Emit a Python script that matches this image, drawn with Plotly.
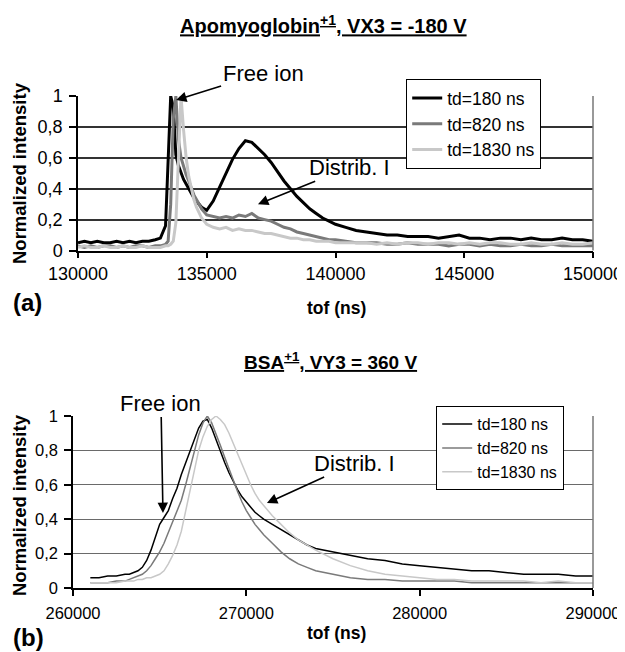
import plotly.graph_objects as go

# ---------------- data: panel (a) ----------------
tof_a = [130000, 130250, 130500, 130750, 131000, 131250, 131500, 131750, 132000, 132250,
         132500, 132750, 133000, 133200, 133400,
         133500, 133600, 133700, 133800, 133900, 134000, 134100, 134200, 134300, 134400,
         134500, 134600, 134800,
         135000, 135250, 135500, 135750, 136000, 136250, 136500, 136750, 137000, 137250,
         137500, 137750, 138000, 138250, 138500, 138750, 139000, 139250, 139500, 139750, 140000,
         140400, 140800, 141200, 141600, 142000, 142400, 142800, 143200, 143600, 144000,
         144400, 144800, 145200, 145600, 146000, 146400, 146800, 147200, 147600, 148000,
         148400, 148800, 149200, 149600, 150000]

a_td180 = [0.05, 0.06, 0.05, 0.06, 0.05, 0.05, 0.06, 0.05, 0.06, 0.05,
           0.06, 0.06, 0.07, 0.08, 0.16,
           0.55, 1.00, 0.93, 0.62, 0.55, 0.50, 0.46, 0.43, 0.40, 0.37,
           0.34, 0.32, 0.28,
           0.26, 0.32, 0.41, 0.50, 0.59, 0.66, 0.71, 0.70, 0.66, 0.62,
           0.57, 0.51, 0.45, 0.40, 0.35, 0.31, 0.27, 0.24, 0.21, 0.19, 0.17,
           0.15, 0.13, 0.12, 0.11, 0.10, 0.10, 0.09, 0.09, 0.09, 0.08,
           0.09, 0.10, 0.08, 0.08, 0.07, 0.08, 0.08, 0.07, 0.08, 0.07,
           0.07, 0.08, 0.07, 0.07, 0.06]

a_td820 = [0.03, 0.02, 0.03, 0.02, 0.03, 0.03, 0.02, 0.03, 0.02, 0.03,
           0.03, 0.02, 0.03, 0.03, 0.04,
           0.06, 0.30, 0.85, 1.00, 0.72, 0.60, 0.54, 0.49, 0.45, 0.40,
           0.36, 0.33, 0.27,
           0.23, 0.22, 0.21, 0.22, 0.21, 0.23, 0.22, 0.24, 0.21, 0.20,
           0.19, 0.17, 0.15, 0.14, 0.12, 0.11, 0.10, 0.09, 0.08, 0.07, 0.07,
           0.06, 0.05, 0.05, 0.05, 0.04, 0.04, 0.05, 0.04, 0.04, 0.04,
           0.03, 0.04, 0.04, 0.03, 0.04, 0.03, 0.03, 0.04, 0.03, 0.03,
           0.04, 0.03, 0.03, 0.03, 0.03]

a_td1830 = [0.02, 0.03, 0.02, 0.02, 0.03, 0.02, 0.02, 0.03, 0.02, 0.02,
            0.03, 0.02, 0.02, 0.02, 0.03,
            0.03, 0.04, 0.06, 0.18, 0.62, 1.00, 0.78, 0.60, 0.48, 0.40,
            0.33, 0.28, 0.21,
            0.17, 0.15, 0.14, 0.15, 0.13, 0.14, 0.13, 0.13, 0.12, 0.11,
            0.11, 0.10, 0.09, 0.08, 0.08, 0.07, 0.07, 0.06, 0.06, 0.06, 0.05,
            0.05, 0.05, 0.05, 0.04, 0.05, 0.04, 0.05, 0.05, 0.04, 0.05,
            0.05, 0.04, 0.05, 0.04, 0.05, 0.05, 0.04, 0.04, 0.05, 0.04,
            0.04, 0.05, 0.04, 0.04, 0.05]

# ---------------- data: panel (b) ----------------
tof_b = [261000, 261500, 262000, 262500,
         263000, 263250, 263500, 263750, 264000, 264250, 264500, 264750, 265000, 265250,
         265500, 265750, 266000, 266250, 266500, 266750, 267000, 267250, 267500, 267750,
         268000, 268250, 268500, 268750, 269000, 269250, 269500, 269750, 270000, 270250,
         270500, 270750, 271000,
         271500, 272000, 272500, 273000, 273500, 274000,
         275000, 276000, 277000, 278000, 279000, 280000, 281000, 282000, 283000, 284000,
         285000, 286000, 287000, 288000, 289000, 290000]

b_td180 = [0.06, 0.06, 0.07, 0.07,
           0.08, 0.08, 0.09, 0.10, 0.12, 0.16, 0.22, 0.30, 0.37, 0.41,
           0.45, 0.52, 0.58, 0.66, 0.73, 0.80, 0.87, 0.93, 0.97, 0.98,
           0.93, 0.86, 0.80, 0.73, 0.67, 0.62, 0.57, 0.53, 0.50, 0.47,
           0.44, 0.42, 0.40,
           0.37, 0.34, 0.31, 0.28, 0.25, 0.23,
           0.21, 0.19, 0.17, 0.16, 0.14, 0.13, 0.12, 0.11, 0.10, 0.10,
           0.09, 0.08, 0.08, 0.08, 0.07, 0.07]

b_td820 = [0.03, 0.03, 0.03, 0.04,
           0.04, 0.05, 0.06, 0.07, 0.08, 0.10, 0.13, 0.17, 0.21, 0.26,
           0.32, 0.38, 0.44, 0.51, 0.60, 0.70, 0.80, 0.89, 0.96, 1.00,
           0.96, 0.90, 0.83, 0.76, 0.69, 0.62, 0.56, 0.50, 0.45, 0.41,
           0.37, 0.34, 0.31,
           0.26, 0.21, 0.17, 0.14, 0.12, 0.10,
           0.08, 0.06, 0.05, 0.05, 0.04, 0.04, 0.04, 0.04, 0.03, 0.03,
           0.03, 0.03, 0.03, 0.03, 0.03, 0.03]

b_td1830 = [0.03, 0.03, 0.03, 0.03,
            0.04, 0.04, 0.04, 0.05, 0.05, 0.06, 0.06, 0.07, 0.08, 0.10,
            0.14, 0.19, 0.25, 0.33, 0.45, 0.58, 0.70, 0.80, 0.88, 0.94,
            0.98, 1.00, 0.98, 0.95, 0.90, 0.84, 0.77, 0.71, 0.65, 0.60,
            0.55, 0.51, 0.48,
            0.42, 0.37, 0.32, 0.28, 0.25, 0.22,
            0.17, 0.13, 0.10, 0.08, 0.07, 0.06, 0.05, 0.05, 0.04, 0.04,
            0.04, 0.04, 0.03, 0.04, 0.03, 0.03]

series_names = ["td=180 ns", "td=820 ns", "td=1830 ns"]
series_colors = ["#000000", "#7a7a7a", "#c8c8c8"]

y_tickvals = [0, 0.2, 0.4, 0.6, 0.8, 1]
y_ticktext = ["0", "0,2", "0,4", "0,6", "0,8", "1"]
xa_ticks = [130000, 135000, 140000, 145000, 150000]
xb_ticks = [260000, 270000, 280000, 290000]

FONT = "Liberation Sans, Arial, Helvetica, sans-serif"
OFF = 8                     # page body margin
W, H = 625, 652 - OFF

fig = go.Figure()

for name, col, ys in zip(series_names, series_colors, [a_td180, a_td820, a_td1830]):
    fig.add_trace(go.Scatter(x=tof_a, y=ys, mode="lines", name=name,
                             line=dict(color=col, width=3), xaxis="x", yaxis="y",
                             legend="legend"))
for name, col, ys in zip(series_names, series_colors, [b_td180, b_td820, b_td1830]):
    fig.add_trace(go.Scatter(x=tof_b, y=ys, mode="lines", name=name,
                             line=dict(color=col, width=1.5), xaxis="x2", yaxis="y2",
                             legend="legend2"))

def px_x(p):
    return (p - OFF) / W

def px_y(p):
    return 1 - (p - OFF) / H

xa_dom = [px_x(78), px_x(593)]
ya_dom = [px_y(250.5), px_y(96)]
xb_dom = [px_x(73), px_x(593)]
yb_dom = [px_y(588), px_y(416)]

tickfont_a = dict(family=FONT, size=18, color="black")
tickfont_b = dict(family=FONT, size=16.5, color="black")

common_x = dict(showgrid=False, zeroline=False, showline=True, linecolor="black",
                linewidth=1.5, ticks="outside", ticklen=6, tickwidth=1.5,
                tickcolor="black", automargin=False)
common_y = dict(range=[0, 1], tickvals=y_tickvals, ticktext=y_ticktext, showgrid=True,
                zeroline=False, showline=True, linecolor="black", linewidth=1.5,
                ticks="outside", ticklen=7, tickwidth=1.5, tickcolor="black",
                automargin=False, ticklabelstandoff=3)

fig.update_layout(
    width=W, height=H,
    margin=dict(l=0, r=0, t=0, b=0, pad=0, autoexpand=False),
    paper_bgcolor="white", plot_bgcolor="white",
    font=dict(family=FONT, color="black"),
    xaxis=dict(domain=xa_dom, range=[130000, 150000], tickvals=xa_ticks,
               ticktext=[str(v) for v in xa_ticks], tickfont=tickfont_a, anchor="y",
               **common_x),
    yaxis=dict(domain=ya_dom, gridcolor="#333333", gridwidth=1.5, tickfont=tickfont_a,
               anchor="x", **common_y),
    xaxis2=dict(domain=xb_dom, range=[260000, 290000], tickvals=xb_ticks,
                ticktext=[str(v) for v in xb_ticks], tickfont=tickfont_b, anchor="y2",
                ticklabelstandoff=3, **common_x),
    yaxis2=dict(domain=yb_dom, gridcolor="#6a6a6a", gridwidth=1.2, tickfont=tickfont_b,
                anchor="x2", **common_y),
    legend=dict(x=px_x(406), y=px_y(79), xanchor="left", yanchor="top",
                bgcolor="white", bordercolor="black", borderwidth=1.2,
                font=dict(family=FONT, size=17.5, color="black"),
                itemwidth=30, tracegroupgap=0),
    legend2=dict(x=px_x(436), y=px_y(406), xanchor="left", yanchor="top",
                 bgcolor="white", bordercolor="black", borderwidth=1.2,
                 font=dict(family=FONT, size=16, color="black"),
                 itemwidth=30, tracegroupgap=0),
    showlegend=True,
)

# right border of each plot area
fig.add_shape(type="line", xref="x domain", yref="y domain", x0=1, x1=1, y0=0, y1=1,
              line=dict(color="#777777", width=1.5))
fig.add_shape(type="line", xref="x2 domain", yref="y2 domain", x0=1, x1=1, y0=0, y1=1,
              line=dict(color="#777777", width=1.5))

annots = []

def label(text, xp, yp, size, angle=0):
    return dict(text=text, x=px_x(xp), y=px_y(yp), xref="paper", yref="paper",
                xanchor="center", yanchor="middle", showarrow=False, textangle=angle,
                font=dict(family=FONT, size=size, color="black"))

# titles
annots.append(label("<b><u>Apomyoglobin<sup>+1</sup>, VX3 = -180 V</u></b>", 323, 24, 20))
annots.append(label("<b><u>BSA<sup>+1</sup>, VY3 = 360 V</u></b>", 330, 361, 19))
# axis titles
annots.append(label("<b>tof (ns)</b>", 336, 308, 17.5))
annots.append(label("<b>tof (ns)</b>", 336, 633, 17.5))
annots.append(label("<b>Normalized intensity</b>", 19, 173, 18.5, -90))
annots.append(label("<b>Normalized intensity</b>", 19, 505, 18.5, -90))
# panel labels
annots.append(label("<b>(a)</b>", 27, 302, 24))
annots.append(label("<b>(b)</b>", 28, 637, 24))

# arrows with labels
arrow_style = dict(showarrow=True, arrowhead=2, arrowsize=1.3, arrowwidth=1.6,
                   arrowcolor="black", xanchor="center", yanchor="middle",
                   font=dict(family=FONT, size=22, color="black"))
annots.append(dict(text="Free ion", x=133810, y=0.974, xref="x", yref="y",
                   ax=87, ay=-27, **arrow_style))
annots.append(dict(text="Distrib. I", x=136990, y=0.30, xref="x", yref="y",
                   ax=92, ay=-37, **arrow_style))
annots.append(dict(text="Free ion", x=265190, y=0.436, xref="x2", yref="y2",
                   ax=-2, ay=-110, **arrow_style))
annots.append(dict(text="Distrib. I", x=271190, y=0.494, xref="x2", yref="y2",
                   ax=88, ay=-40, **arrow_style))

fig.update_layout(annotations=annots)

fig.write_html("out.html")
